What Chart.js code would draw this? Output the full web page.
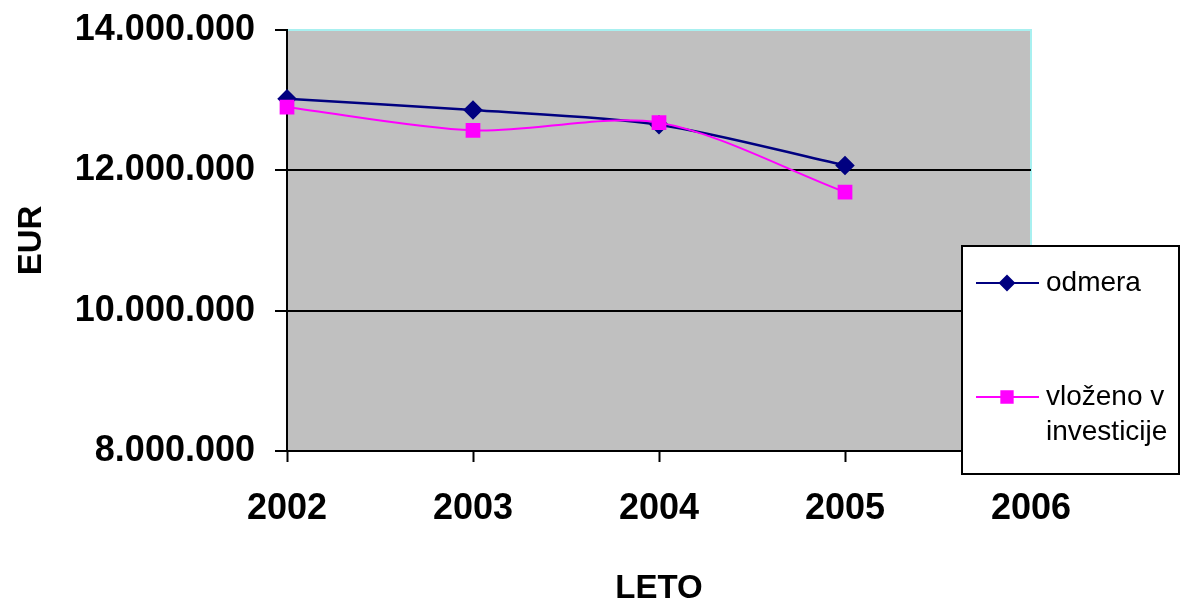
<!DOCTYPE html>
<html>
<head>
<meta charset="utf-8">
<script src="https://cdn.jsdelivr.net/npm/chart.js@4/dist/chart.umd.min.js"></script>
<style>
  body { margin: 0; background: #fff; }
  #wrap { width: 1180px; height: 605px; }
</style>
</head>
<body>
<div id="wrap"><canvas id="chart" width="1180" height="605"></canvas></div>
<script>
// Data
const years = ['2002', '2003', '2004', '2005', '2006'];
const odmera = [13020000, 12860000, 12650000, 12070000];
const vlozeno = [12900000, 12570000, 12680000, 11690000];
const yTicks = [8000000, 10000000, 12000000, 14000000];

const FONT = '"Liberation Sans", Arial, sans-serif';

function formatEur(v) {
    return String(v).replace(/\B(?=(\d{3})+(?!\d))/g, '.');
}

// Gray plot area behind the lines, cyan edge on top and right
const plotBackground = {
    id: 'plotBackground',
    beforeDraw(chart) {
        const { ctx, chartArea: a } = chart;
        ctx.save();
        ctx.fillStyle = '#C0C0C0';
        ctx.fillRect(a.left, a.top, a.right - a.left, a.bottom - a.top);
        ctx.strokeStyle = '#A8F0F0';
        ctx.lineWidth = 2;
        ctx.beginPath();
        ctx.moveTo(a.left, a.top);
        ctx.lineTo(a.right, a.top);
        ctx.lineTo(a.right, a.bottom);
        ctx.stroke();
        ctx.restore();
    }
};

// Boxed legend in the lower right, overlapping the plot
const boxLegend = {
    id: 'boxLegend',
    afterDraw(chart) {
        const ctx = chart.ctx;
        const x0 = 962, y0 = 246, w = 217, h = 228;
        ctx.save();
        ctx.fillStyle = '#fff';
        ctx.fillRect(x0, y0, w, h);
        ctx.strokeStyle = '#000';
        ctx.lineWidth = 2;
        ctx.strokeRect(x0, y0, w, h);

        const items = [
            { ds: chart.data.datasets[0], y: 283, lines: ['odmera'] },
            { ds: chart.data.datasets[1], y: 397, lines: ['vloženo v', 'investicije'] }
        ];
        items.forEach(function(item) {
            const ds = item.ds;
            ctx.strokeStyle = ds.borderColor;
            ctx.lineWidth = 2;
            ctx.beginPath();
            ctx.moveTo(976, item.y);
            ctx.lineTo(1039, item.y);
            ctx.stroke();
            Chart.helpers.drawPoint(ctx, {
                pointStyle: ds.pointStyle,
                radius: ds.pointRadius - 1,
                borderWidth: 1
            }, 1007, item.y);
            ctx.fillStyle = ds.pointBackgroundColor;
            ctx.fill();

            ctx.fillStyle = '#000';
            ctx.font = '28px ' + FONT;
            ctx.textBaseline = 'middle';
            ctx.textAlign = 'left';
            item.lines.forEach(function(t, i) {
                ctx.fillText(t, 1046, item.y + i * 35);
            });
        });
        ctx.restore();
    }
};

const data = {
    labels: years,
    datasets: [
        {
            label: 'odmera',
            data: odmera,
            borderColor: '#000080',
            backgroundColor: '#000080',
            pointBackgroundColor: '#000080',
            pointBorderColor: '#000080',
            pointStyle: 'rectRot',
            pointRadius: 8,
            borderWidth: 2.5,
            tension: 0.3,
            order: 1
        },
        {
            label: 'vloženo v investicije',
            data: vlozeno,
            borderColor: '#FF00FF',
            backgroundColor: '#FF00FF',
            pointBackgroundColor: '#FF00FF',
            pointBorderColor: '#FF00FF',
            pointStyle: 'rect',
            pointRadius: 9,
            borderWidth: 2,
            tension: 0.3,
            order: 0
        }
    ]
};

const options = {
    responsive: false,
    animation: false,
    clip: false,
    layout: { padding: { top: 30, right: 149, left: 0, bottom: 0 } },
    plugins: {
        legend: { display: false },
        tooltip: { enabled: false }
    },
    scales: {
        x: {
            type: 'category',
            offset: false,
            afterFit: function(s) {
                s.height = 154;
                s.paddingLeft = 0;
                s.paddingRight = 0;
            },
            border: { display: true, color: '#000', width: 2 },
            grid: {
                color: 'rgba(0,0,0,0)',
                tickColor: '#000',
                tickLength: 11,
                tickWidth: 2
            },
            ticks: {
                color: '#000',
                padding: 25,
                maxRotation: 0,
                font: { family: FONT, size: 36, weight: 'bold' }
            },
            title: {
                display: true,
                text: 'LETO',
                color: '#000',
                padding: 0,
                font: { family: FONT, size: 33, weight: 'bold', lineHeight: 1 }
            }
        },
        y: {
            min: yTicks[0],
            max: yTicks[yTicks.length - 1],
            afterFit: function(s) {
                s.width = 287;
                s.paddingTop = 0;
                s.paddingBottom = 0;
            },
            afterBuildTicks: function(s) {
                s.ticks = yTicks.map(function(v) { return { value: v }; });
            },
            border: { display: true, color: '#000', width: 2 },
            grid: {
                color: function(c) {
                    const v = c.tick && c.tick.value;
                    return (v === yTicks[0] || v === yTicks[yTicks.length - 1]) ? 'rgba(0,0,0,0)' : '#000';
                },
                lineWidth: 2,
                tickColor: '#000',
                tickLength: 12,
                tickWidth: 2
            },
            ticks: {
                color: '#000',
                padding: 20,
                callback: formatEur,
                font: { family: FONT, size: 36, weight: 'bold' }
            },
            title: {
                display: true,
                text: 'EUR',
                color: '#000',
                padding: { top: 12 },
                font: { family: FONT, size: 33, weight: 'bold' }
            }
        }
    }
};

new Chart(document.getElementById('chart'), {
    type: 'line',
    data: data,
    options: options,
    plugins: [plotBackground, boxLegend]
});
</script>
</body>
</html>
